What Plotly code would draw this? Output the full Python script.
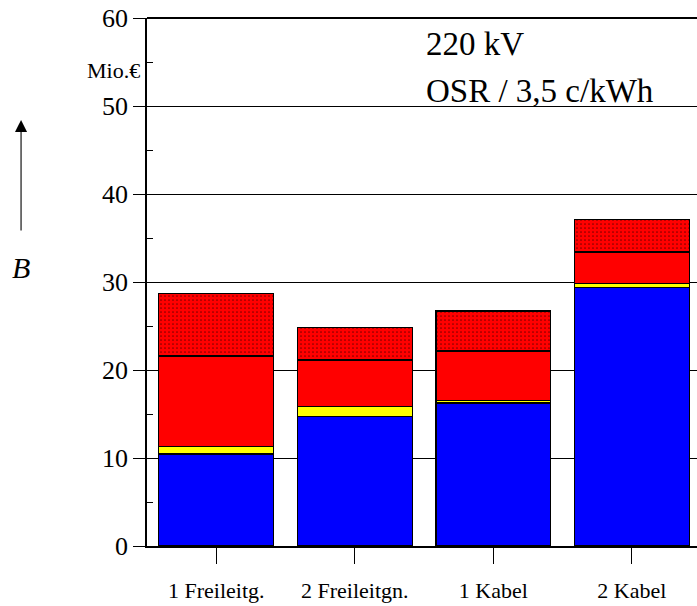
import plotly.graph_objects as go

categories = ["1 Freileitg.", "2 Freileitgn.", "1 Kabel", "2 Kabel"]
blue_vals = [10.45, 14.7, 16.25, 29.35]
yellow_vals = [0.85, 1.17, 0.3, 0.45]
red_vals = [10.3, 5.27, 5.6, 3.6]
dotted_vals = [7.1, 3.7, 4.55, 3.7]
y_ticks = [0, 10, 20, 30, 40, 50, 60]

FONT = "Liberation Serif, Times New Roman, serif"
xpos = list(range(len(categories)))
line = dict(color="black", width=1.3)

fig = go.Figure()
fig.add_bar(x=xpos, y=blue_vals, marker=dict(color="#0000ff", line=line), width=0.83)
fig.add_bar(x=xpos, y=yellow_vals, marker=dict(color="#ffff00", line=line), width=0.83)
fig.add_bar(x=xpos, y=red_vals, marker=dict(color="#ff0000", line=line), width=0.83)
fig.add_bar(x=xpos, y=dotted_vals, width=0.83,
            marker=dict(color="#ff0000", line=line,
                        pattern=dict(shape=".", fgcolor="black", bgcolor="#ff0000",
                                     size=4, solidity=0.14)))

fig.update_layout(
    width=697, height=606, barmode="stack", showlegend=False,
    margin=dict(l=147, r=0, t=18, b=60),
    paper_bgcolor="white", plot_bgcolor="white",
    font=dict(family=FONT, color="black"),
    xaxis=dict(range=[-0.5, 3.47], tickmode="array", tickvals=xpos, ticktext=categories,
               showgrid=False, showline=True, linecolor="black", linewidth=1.5,
               ticks="outside", ticklen=16, tickcolor="black", tickwidth=1, automargin=False,
               ticklabelstandoff=8, tickfont=dict(size=22, family=FONT), zeroline=False,
               ticklabeloverflow="allow"),
    yaxis=dict(range=[0, 60], tickmode="array", tickvals=y_ticks, automargin=False,
               showgrid=True, gridcolor="black", gridwidth=1,
               showline=True, linecolor="black", linewidth=1.5,
               ticks="outside", ticklen=12, tickcolor="black", tickwidth=1,
               minor=dict(dtick=5, ticks="inside", ticklen=6, tickcolor="black", showgrid=False),
               tickfont=dict(size=26, family=FONT), zeroline=False,
               ticklabeloverflow="allow"),
)

fig.add_shape(type="line", xref="paper", yref="paper", x0=0, x1=1, y0=1, y1=1,
              line=dict(color="black", width=2))

fig.add_annotation(x=1.50, y=57.0, xref="x", yref="y", text="220 kV", showarrow=False,
                   xanchor="left", yanchor="middle", font=dict(size=33, family=FONT))
fig.add_annotation(x=1.50, y=51.7, xref="x", yref="y", text="OSR / 3,5 c/kWh", showarrow=False,
                   xanchor="left", yanchor="middle", font=dict(size=33, family=FONT))
fig.add_annotation(x=-0.009, y=0.9, xref="paper", yref="paper", text="Mio.€", showarrow=False,
                   xanchor="right", yanchor="middle", font=dict(size=22, family=FONT))
fig.add_annotation(x=-0.229, y=0.807, xref="paper", yref="paper", text="", showarrow=True,
                   ax=0, ay=112, arrowhead=2, arrowsize=2.2, arrowwidth=1.1, arrowcolor="black")
fig.add_annotation(x=-0.229, y=0.527, xref="paper", yref="paper", text="<i>B</i>", showarrow=False,
                   xanchor="center", yanchor="middle", font=dict(size=30, family=FONT))

fig.write_html("out.html", config={"displayModeBar": False},
               post_script="document.body.style.margin='0';document.body.style.overflow='hidden';")
